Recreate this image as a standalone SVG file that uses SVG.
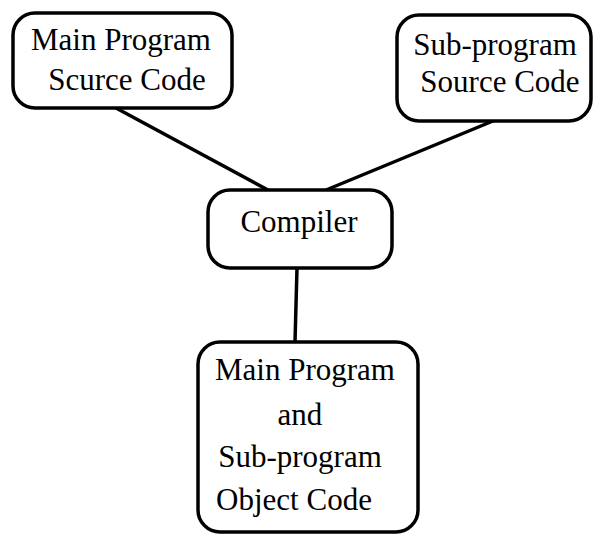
<svg xmlns="http://www.w3.org/2000/svg" width="594" height="538" viewBox="0 0 594 538">
  <style>
    .box { fill: #ffffff; stroke: #000000; stroke-width: 3.5; }
    .lbl { font-family: "Liberation Serif", "DejaVu Serif", serif; font-size: 31px; fill: #000000; text-anchor: middle; }
    .wire { stroke: #000000; stroke-width: 3.5; fill: none; stroke-linecap: round; }
  </style>
  <rect width="594" height="538" fill="#ffffff"/>
  <g id="connectors">
    <line class="wire" x1="116" y1="108" x2="268" y2="190"/>
    <line class="wire" x1="493" y1="121" x2="326" y2="190"/>
    <line class="wire" x1="297" y1="268" x2="295" y2="342"/>
  </g>
  <g id="main-source">
    <rect class="box" x="13" y="13" width="219" height="95" rx="22" ry="22"/>
    <text class="lbl" x="121" y="50">Main Program</text>
    <text class="lbl" x="127" y="90">Scurce Code</text>
  </g>
  <g id="sub-source">
    <rect class="box" x="397" y="15" width="194" height="106" rx="22" ry="22"/>
    <text class="lbl" x="495" y="55">Sub-program</text>
    <text class="lbl" x="500" y="92">Source Code</text>
  </g>
  <g id="compiler">
    <rect class="box" x="208" y="190" width="184" height="78" rx="22" ry="22"/>
    <text class="lbl" x="299" y="232">Compiler</text>
  </g>
  <g id="object-code">
    <rect class="box" x="198" y="342" width="220" height="190" rx="22" ry="22"/>
    <text class="lbl" x="305" y="380">Main Program</text>
    <text class="lbl" x="300" y="425">and</text>
    <text class="lbl" x="300" y="467">Sub-program</text>
    <text class="lbl" x="294" y="510">Object Code</text>
  </g>
</svg>
